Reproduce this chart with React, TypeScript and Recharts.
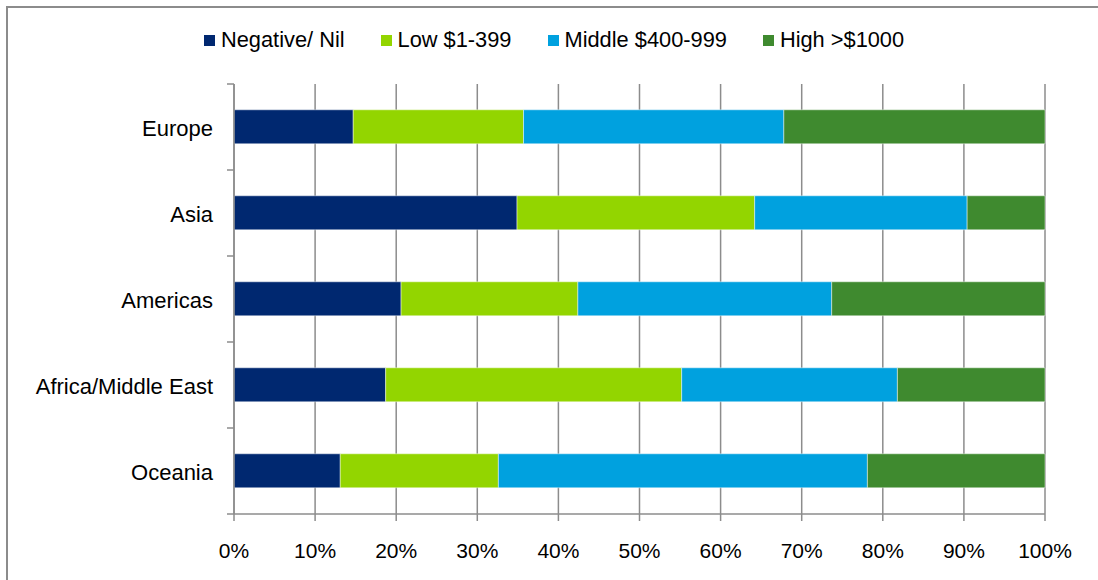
import React from 'react';
import { BarChart, Bar, XAxis, YAxis, CartesianGrid, Legend } from 'recharts';

const categories = ['Europe', 'Asia', 'Americas', 'Africa/Middle East', 'Oceania'];
const negativeNil = [14.7, 34.9, 20.6, 18.7, 13.1];
const low = [21.0, 29.3, 21.8, 36.5, 19.5];
const middle = [32.1, 26.2, 31.3, 26.6, 45.5];
const high = [32.2, 9.6, 26.3, 18.2, 21.9];

const seriesNames = ['Negative/ Nil', 'Low $1-399', 'Middle $400-999', 'High >$1000'];
const seriesKeys = ['neg', 'low', 'mid', 'high'];
const seriesColors = ['#002870', '#93D500', '#00A1DF', '#3F8A2F'];

const xTicks = [0, 0.1, 0.2, 0.3, 0.4, 0.5, 0.6, 0.7, 0.8, 0.9, 1];
const xTickLabels = ['0%', '10%', '20%', '30%', '40%', '50%', '60%', '70%', '80%', '90%', '100%'];

const data = categories.map((name, i) => ({
  name,
  neg: negativeNil[i],
  low: low[i],
  mid: middle[i],
  high: high[i],
}));

const FONT = '"Liberation Sans", Arial, sans-serif';
const GRID = '#8c8c8c';
const TICK_SIZE = 7;
const TICK_MARGIN = 14;

const CategoryTick = (props: any) => {
  const { x, y, payload, index } = props;
  const half = payload && payload.offset ? payload.offset : 0;
  const x1 = x + TICK_MARGIN;
  const x2 = x + TICK_MARGIN + TICK_SIZE;
  return (
    <g>
      <text
        x={x}
        y={y + 1.5}
        textAnchor="end"
        dominantBaseline="central"
        fontSize={22}
        fontFamily={FONT}
        fill="#000"
      >
        {payload.value}
      </text>
      {index === 0 && <line x1={x1} x2={x2} y1={y - half} y2={y - half} stroke={GRID} strokeWidth={1.5} />}
      <line x1={x1} x2={x2} y1={y + half} y2={y + half} stroke={GRID} strokeWidth={1.5} />
    </g>
  );
};

const LegendContent = () => (
  <div
    style={{
      display: 'flex',
      alignItems: 'center',
      height: 20,
      paddingLeft: 196,
      fontFamily: FONT,
      fontSize: 21.8,
      color: '#000',
      whiteSpace: 'nowrap',
    }}
  >
    {seriesNames.map((n, i) => (
      <div key={n} style={{ display: 'flex', alignItems: 'center', marginRight: 36 }}>
        <span style={{ display: 'inline-block', width: 11, height: 11, background: seriesColors[i], marginRight: 6 }} />
        <span style={{ lineHeight: '20px' }}>{n}</span>
      </div>
    ))}
  </div>
);

export default function App() {
  return (
    <div
      style={{
        position: 'absolute',
        left: 6,
        top: 6,
        width: 1090,
        height: 572,
        borderLeft: `2px solid ${GRID}`,
        borderTop: `2px solid ${GRID}`,
        background: '#fff',
      }}
    >
      <BarChart
        width={1090}
        height={572}
        data={data}
        layout="vertical"
        stackOffset="expand"
        barCategoryGap="30%"
        margin={{ top: 22, right: 53, bottom: 0, left: 0 }}
      >
        <Legend verticalAlign="top" align="left" height={54} width={1090} content={<LegendContent />} />
        <CartesianGrid horizontal={false} vertical={true} stroke={GRID} strokeWidth={1.5} />
        <XAxis
          type="number"
          domain={[0, 1]}
          ticks={xTicks}
          tickFormatter={(v: number) => xTickLabels[xTicks.indexOf(v)] ?? ''}
          height={66}
          axisLine={{ stroke: GRID, strokeWidth: 1.5 }}
          tickLine={{ stroke: GRID, strokeWidth: 1.5 }}
          tickSize={TICK_SIZE}
          tickMargin={22}
          tick={{ fontSize: 21, fontFamily: FONT, fill: '#000' }}
          interval={0}
        />
        <YAxis
          type="category"
          dataKey="name"
          width={226}
          axisLine={{ stroke: GRID, strokeWidth: 1.5 }}
          tickLine={false}
          tickSize={TICK_SIZE}
          tickMargin={TICK_MARGIN}
          tick={<CategoryTick />}
          interval={0}
        />
        {seriesKeys.map((k, i) => (
          <Bar
            key={k}
            dataKey={k}
            name={seriesNames[i]}
            stackId="a"
            fill={seriesColors[i]}
            stroke="#ffffff"
            strokeOpacity={0.45}
            strokeWidth={1}
            isAnimationActive={false}
          />
        ))}
      </BarChart>
    </div>
  );
}
